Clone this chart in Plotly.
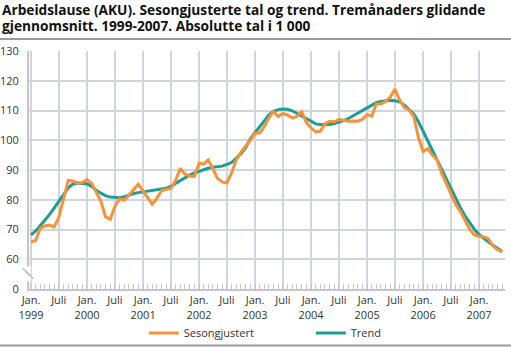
import plotly.graph_objects as go
import pandas as pd

months = pd.date_range("1999-01-01", periods=102, freq="MS")

sesongjustert = [
    65.8, 66.3, 70.3, 71.2, 71.5, 70.9, 74.0, 80.0, 86.5, 86.3, 85.6, 85.7,
    86.8, 85.5, 82.5, 79.5, 74.3, 73.4, 77.8, 80.3, 79.8, 81.5, 83.6, 85.2,
    83.0, 80.8, 78.5, 80.5, 83.0, 83.5, 83.8, 86.5, 90.6, 88.6, 88.0, 87.8,
    92.3, 92.0, 93.4, 90.5, 87.2, 86.0, 85.6, 89.0, 93.5, 96.0, 97.9, 100.0,
    102.3, 102.5, 104.5, 107.5, 109.7, 108.0, 109.0, 108.5, 107.5, 108.0, 109.6, 106.0,
    104.2, 102.8, 103.0, 105.5, 106.4, 106.2, 107.0, 106.8, 106.4, 106.5, 106.4, 107.0,
    108.6, 108.1, 112.2, 112.2, 113.0, 114.5, 117.2, 113.5, 111.0, 110.2, 108.0, 101.0,
    96.2, 97.2, 95.0, 93.6, 89.0, 85.5, 82.0, 78.5, 76.0, 73.0, 70.0, 68.2,
    67.7, 67.5, 67.0, 64.5, 63.2, 62.5,
]

trend = [
    68.2, 69.5, 71.2, 73.0, 75.0, 77.2, 79.5, 81.6, 84.0, 85.3, 85.6, 85.5,
    85.3, 84.5, 83.2, 82.2, 81.4, 80.9, 80.7, 80.7, 81.0, 81.6, 82.1, 82.4,
    82.6, 82.8, 83.0, 83.3, 83.6, 83.9, 84.5, 85.5, 86.5, 87.3, 88.3, 89.0,
    89.6, 90.1, 90.6, 90.9, 91.1, 91.3, 91.9, 92.5, 94.0, 95.5, 97.5, 100.5,
    102.5, 104.5, 106.5, 108.5, 109.7, 110.3, 110.5, 110.4, 109.9, 109.0, 108.0, 107.2,
    106.3, 105.5, 105.3, 105.2, 105.3, 105.6, 106.0, 106.6, 107.3, 108.1, 109.0, 110.0,
    110.9, 111.8, 112.6, 113.0, 113.3, 113.4, 113.3, 112.9, 111.8, 110.3, 108.8, 106.3,
    103.0, 100.0, 97.0, 94.0, 90.8, 87.5, 84.0, 80.5, 77.3, 74.6, 72.2, 70.1,
    68.3, 67.0, 65.8, 64.7, 63.7, 62.6,
]

x_tick_dates = pd.date_range("1999-01-01", "2007-01-01", freq="6MS")
x_tick_text = [
    "Jan.<br>1999", "Juli", "Jan.<br>2000", "Juli", "Jan.<br>2001", "Juli",
    "Jan.<br>2002", "Juli", "Jan.<br>2003", "Juli", "Jan.<br>2004", "Juli",
    "Jan.<br>2005", "Juli", "Jan.<br>2006", "Juli", "Jan.<br>2007",
]
y_tick_vals = [50, 60, 70, 80, 90, 100, 110, 120, 130]
y_tick_text = ["0", "60", "70", "80", "90", "100", "110", "120", "130"]

title_lines = [
    "Arbeidslause (AKU). Sesongjusterte tal og trend. Tremånaders glidande",
    "gjennomsnitt. 1999-2007. Absolutte tal i 1 000",
]

ORANGE = "#f7923a"
TEAL = "#1a9e96"
GRID = "#d3d5dc"
TEXT = "#333333"

fig = go.Figure()
fig.add_trace(go.Scatter(x=months, y=trend, mode="lines", name="Trend",
                         line=dict(color=TEAL, width=3), legendrank=2))
fig.add_trace(go.Scatter(x=months, y=sesongjustert, mode="lines", name="Sesongjustert",
                         line=dict(color=ORANGE, width=3), legendrank=1))

W, H = 511, 349
L, R, T, B = 29, 6, 51, 60


def cx(xp):
    return xp / W


def cy(yp):
    return 1 - yp / H


def line_shape(x0, y0, x1, y1, color, width):
    return dict(type="line", xref="paper", yref="paper",
                x0=(x0 - L) / (W - L - R), x1=(x1 - L) / (W - L - R),
                y0=(H - B - y0) / (H - T - B), y1=(H - B - y1) / (H - T - B),
                line=dict(color=color, width=width))


shapes = [
    line_shape(0, 39, W, 39, "#9a9a9a", 2),
    line_shape(0, 345.5, W, 345.5, "#9a9a9a", 2),
    line_shape(L, 266.5, L, 281.5, "white", 4),
    line_shape(22.7, 268.3, 30.7, 275.7, "#bdbdbd", 1.5),
    line_shape(25.3, 271.3, 33.3, 278.7, "#bdbdbd", 1.5),
]

annotations = [
    dict(text="<b>" + line + "</b>", showarrow=False, align="left",
         xref="paper", yref="paper",
         x=(0 - L) / (W - L - R), y=(H - B - yc) / (H - T - B),
         xanchor="left", yanchor="middle",
         font=dict(family="Open Sans", size=13.7, color="#111111"))
    for line, yc in zip(title_lines, [10, 26])
]

fig.update_layout(
    width=W, height=H,
    margin=dict(l=L, r=R, t=T, b=B, pad=0, autoexpand=False),
    paper_bgcolor="white", plot_bgcolor="white",
    font=dict(family="Open Sans", size=11, color=TEXT),
    annotations=annotations,
    xaxis=dict(
        range=["1998-12-19", "2007-06-19"],
        tickvals=x_tick_dates, ticktext=x_tick_text,
        showgrid=True, gridcolor=GRID, gridwidth=1.5,
        showline=True, linecolor="#c4c6cc", linewidth=2,
        ticks="inside", ticklen=5, tickcolor="#c4c6cc",
        minor=dict(dtick="M1", ticks="inside", ticklen=5, tickcolor="#c4c6cc", showgrid=False),
        tickfont=dict(size=11, color=TEXT),
        zeroline=False, fixedrange=True,
    ),
    yaxis=dict(
        range=[50, 130],
        tickvals=y_tick_vals, ticktext=y_tick_text,
        showgrid=True, gridcolor=GRID, gridwidth=1.5,
        showline=True, linecolor="#c4c6cc", linewidth=2,
        ticks="", ticklabelstandoff=6,
        tickfont=dict(size=11, color=TEXT),
        zeroline=False, fixedrange=True,
    ),
    legend=dict(
        orientation="h", xref="container", yref="container",
        x=cx(310.8), xanchor="center", y=cy(333), yanchor="middle",
        font=dict(size=11, color=TEXT), itemwidth=30, entrywidth=122,
        traceorder="normal", bgcolor="rgba(0,0,0,0)",
    ),
    showlegend=True,
    shapes=shapes,
)

fig.write_html("out.html")
